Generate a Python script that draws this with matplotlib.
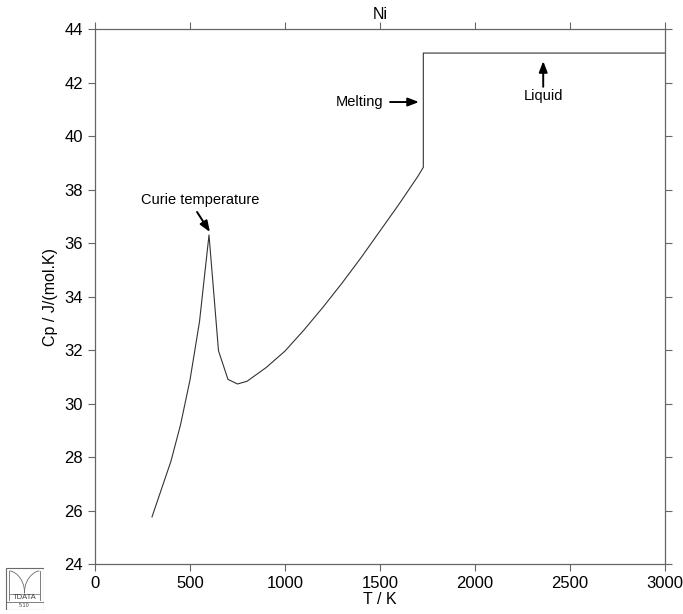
import matplotlib
matplotlib.use("Agg")
import matplotlib.pyplot as plt
from matplotlib.patches import Rectangle
import numpy as np

plt.rcParams['font.family'] = ['Liberation Sans', 'DejaVu Sans']

# Data: heat capacity of Ni
T = [300, 400, 450, 500, 550, 600, 650, 700, 750, 800, 900, 1000, 1100, 1200,
     1300, 1400, 1500, 1600, 1700, 1728, 1728, 3000]
Cp = [25.76, 27.85, 29.2, 30.88, 33.06, 36.3, 31.97, 30.90, 30.73, 30.83, 31.34,
      31.96, 32.75, 33.6, 34.5, 35.45, 36.45, 37.45, 38.5, 38.83, 43.10, 43.10]

xticks = [0, 500, 1000, 1500, 2000, 2500, 3000]
yticks = [24, 26, 28, 30, 32, 34, 36, 38, 40, 42, 44]

fig = plt.figure(figsize=(6.83, 6.14), dpi=100)
ax = fig.add_axes([95/683, 1-564/614, 570/683, 535/614])

ax.plot(T, Cp, color='#333333', lw=0.8)
ax.set_xlim(0, 3000)
ax.set_ylim(24, 44)
ax.set_xticks(xticks)
ax.set_yticks(yticks)
ax.tick_params(direction='out', length=5, width=0.8, color='#666666',
               labelsize=12, top=True, right=True, labeltop=False, labelright=False)
for s in ax.spines.values():
    s.set_color('#666666')
    s.set_linewidth(0.9)

ax.set_xlabel('T / K', fontsize=11.5, labelpad=1)
ax.set_ylabel('Cp / J/(mol.K)', fontsize=11.5, labelpad=5)
ax.set_title('Ni', fontsize=11.5, pad=7)

ap = dict(arrowstyle='-|>,head_length=0.65,head_width=0.25', color='black', lw=1.4,
          shrinkA=0, shrinkB=0)
ax.annotate('', xy=(605, 36.41), xytext=(537, 37.16), arrowprops=ap)
ax.text(553, 37.6, 'Curie temperature', fontsize=10.5, ha='center', va='center')
ax.annotate('', xy=(1705, 41.27), xytext=(1553, 41.27), arrowprops=ap)
ax.text(1516, 41.27, 'Melting', fontsize=10.5, ha='right', va='center')
ax.annotate('', xy=(2359, 42.8), xytext=(2359, 41.84), arrowprops=ap)
ax.text(2359, 41.48, 'Liquid', fontsize=10.5, ha='center', va='center')

# Logo
lg = fig.add_axes([5/683, 4/614, 39/683, 43/614])
lg.set_xlim(0, 39)
lg.set_ylim(0, 43)
lg.axis('off')
gc = '#6a6a6a'
lg.add_patch(Rectangle((0.5, 0.5), 38, 42, fill=False, ec=gc, lw=0.8))
lg.plot([0.5, 38.5], [8, 8], color=gc, lw=0.6)
lg.plot([4, 4], [10, 39], color=gc, lw=0.6)
lg.plot([35, 35], [10, 39], color=gc, lw=0.6)
t = np.linspace(0, 1, 40)
lg.plot(5 + 14.5*np.sin(t*np.pi/2), 39 - 22*t**1.6, color=gc, lw=0.6)
lg.plot(34 - 14.5*np.sin(t*np.pi/2), 39 - 22*t**1.6, color=gc, lw=0.6)
lg.plot([4, 35], [16, 16], color=gc, lw=0.5)
lg.text(19.5, 12.5, 'TDATA', fontsize=5.5, ha='center', va='center', color='#444444')
lg.text(19.5, 4.2, '5.10', fontsize=4, ha='center', va='center', color='#444444')

fig.savefig('out.png', dpi=100)
